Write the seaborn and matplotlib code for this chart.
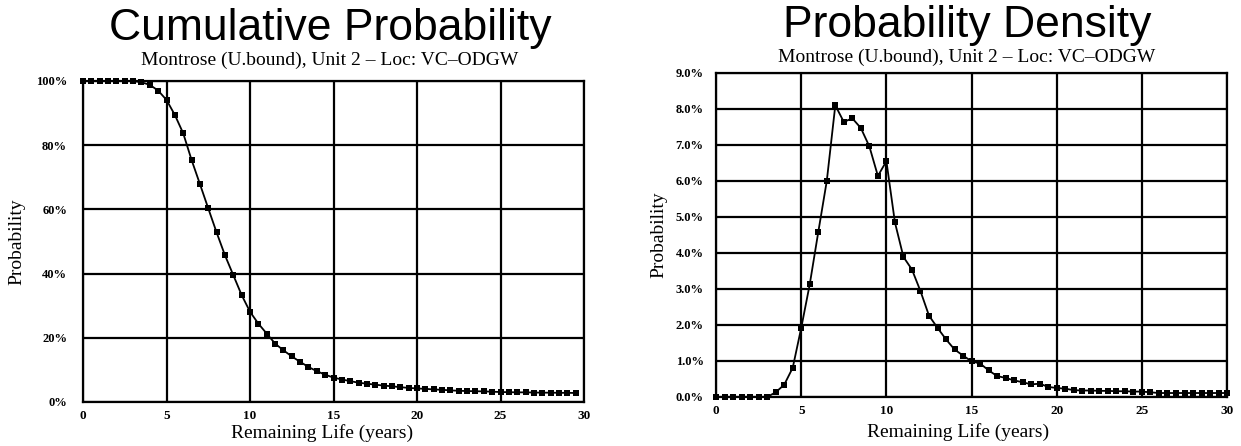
import numpy as np
import matplotlib
matplotlib.use("Agg")
import matplotlib.pyplot as plt
import seaborn as sns

# remaining life in years, half-year steps
years_cum = np.arange(0, 30, 0.5)
years_pdf = np.arange(0, 30.5, 0.5)

# cumulative probability (%)
cum_prob = [100, 100, 100, 100, 100, 100, 100, 99.6, 98.8, 97.0,
            94.1, 89.4, 83.7, 75.4, 67.9, 60.3, 52.8, 45.7, 39.5, 33.3,
            28.1, 24.4, 21.3, 18.2, 16.1, 14.2, 12.5, 10.9, 9.6, 8.5,
            7.6, 7.0, 6.5, 6.0, 5.7, 5.4, 5.1, 4.9, 4.6, 4.4,
            4.2, 4.1, 3.9, 3.8, 3.6, 3.5, 3.4, 3.35, 3.3, 3.2,
            3.1, 3.05, 3.0, 3.0, 2.95, 2.9, 2.9, 2.85, 2.85, 2.8]

# probability density (%)
pdf_prob = [0, 0, 0, 0, 0, 0, 0, 0.13, 0.34, 0.81,
            1.92, 3.13, 4.58, 6.0, 8.1, 7.64, 7.74, 7.47, 6.96, 6.14,
            6.55, 4.85, 3.89, 3.54, 2.94, 2.26, 1.92, 1.60, 1.32, 1.15,
            0.99, 0.93, 0.74, 0.58, 0.53, 0.46, 0.41, 0.35, 0.37, 0.28,
            0.25, 0.23, 0.19, 0.18, 0.18, 0.17, 0.17, 0.16, 0.16, 0.15,
            0.15, 0.13, 0.11, 0.11, 0.11, 0.11, 0.11, 0.11, 0.11, 0.11, 0.11]

x_ticks = [0, 5, 10, 15, 20, 25, 30]
x_labels = ['0', '5', '10', '15', '20', '25', '30']
cum_ticks = [0, 20, 40, 60, 80, 100]
cum_labels = ['0%', '20%', '40%', '60%', '80%', '100%']
pdf_ticks = [0, 1, 2, 3, 4, 5, 6, 7, 8, 9]
pdf_labels = ['0.0%', '1.0%', '2.0%', '3.0%', '4.0%', '5.0%', '6.0%', '7.0%', '8.0%', '9.0%']

subtitle = 'Montrose (U.bound), Unit 2 \u2013 Loc: VC\u2013ODGW'

sns.set_style('white')
plt.rcParams['font.family'] = ['Liberation Serif', 'DejaVu Serif']
plt.rcParams['text.color'] = 'black'
plt.rcParams['axes.labelcolor'] = 'black'
plt.rcParams['xtick.color'] = 'black'
plt.rcParams['ytick.color'] = 'black'

fig = plt.figure(figsize=(12.41, 4.46), dpi=100)
ax1 = fig.add_axes([0.0669, 0.0987, 0.4037, 0.7197])
ax2 = fig.add_axes([0.5770, 0.1099, 0.4118, 0.7265])


def style_axes(ax, yticks, ylabels, ypad):
    ax.set_xlim(0, 30)
    ax.set_xticks(x_ticks, x_labels, fontweight='bold', fontsize=9.5)
    ax.set_yticks(yticks, ylabels, fontweight='bold', fontsize=9)
    ax.set_ylim(yticks[0], yticks[-1])
    ax.grid(True, color='black', linewidth=1.6)
    ax.set_axisbelow(True)
    for s in ax.spines.values():
        s.set_color('black')
        s.set_linewidth(1.6)
    ax.tick_params(axis='x', length=0, pad=6)
    ax.tick_params(axis='y', length=0, pad=ypad)


sns.lineplot(x=years_cum, y=cum_prob, ax=ax1, color='black', marker='s',
             markersize=5, markeredgewidth=0, linewidth=1.3, clip_on=False)
style_axes(ax1, cum_ticks, cum_labels, 11.5)

sns.lineplot(x=years_pdf, y=pdf_prob, ax=ax2, color='black', marker='s',
             markersize=5, markeredgewidth=0, linewidth=1.3, clip_on=False)
style_axes(ax2, pdf_ticks, pdf_labels, 9)

for ax, lx, ly, yx in [(ax1, 0.477, -0.068, -0.116), (ax2, 0.474, -0.082, -0.096)]:
    ax.set_xlabel('Remaining Life (years)', fontsize=14)
    ax.set_ylabel('Probability', fontsize=14)
    ax.xaxis.set_label_coords(lx, ly)
    ax.yaxis.set_label_coords(yx, 0.5)

fig.text(0.266, 0.910, 'Cumulative Probability', fontsize=32, ha='center',
         va='baseline', family='Liberation Sans')
fig.text(0.779, 0.917, 'Probability Density', fontsize=32, ha='center',
         va='baseline', family='Liberation Sans')
fig.text(0.266, 0.854, subtitle, fontsize=14, ha='center', va='baseline')
fig.text(0.779, 0.861, subtitle, fontsize=14, ha='center', va='baseline')

fig.savefig('out.png', dpi=100)
